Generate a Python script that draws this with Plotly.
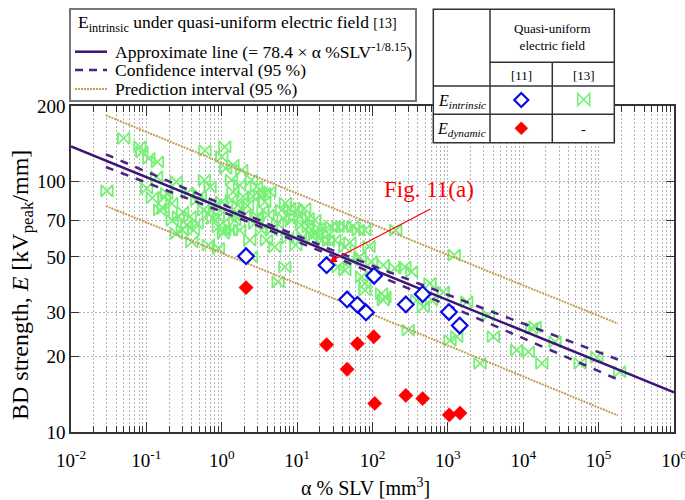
import numpy as np
import plotly.graph_objects as go

# ---------------- data ----------------
# E_intrinsic under quasi-uniform electric field, ref. [13]
ref13_slv = [0.030, 0.050, 0.082, 0.087, 0.108, 0.140, 0.101, 0.137, 0.600, 1.00,
             1.13, 0.589, 0.173, 0.168, 0.217, 0.266, 0.303, 0.379, 0.343, 0.421,
             0.572, 0.665, 0.903, 1.053, 1.00, 0.400, 0.665, 0.903, 0.903, 0.250,
             0.186, 0.466, 0.150, 0.758, 1.096, 1.41, 1.84, 1.345, 1.41, 1.345,
             1.73, 1.92, 1.64, 2.48, 2.89, 3.20, 3.72, 4.34, 3.72, 3.53,
             1.096, 1.345, 1.73, 1.28, 1.49, 2.74, 3.37, 3.92, 5.06, 4.57,
             2.48, 6.21, 8.00, 9.82, 12.6, 6.52, 8.43, 10.9, 14.0, 17.2,
             11.4, 14.0, 19.0, 23.3, 28.6, 35.0, 43.0, 6.87, 5.60, 31.7,
             43.0, 35.0, 43.0, 52.8, 64.6, 68.0, 71.6, 79.3, 97.3, 132,
             139, 79.3, 4.1, 7.5, 9.6, 21.3, 15.7, 2.35, 2.0, 203,
             1216, 139, 198, 269, 330, 146, 79.3, 385, 471, 578,
             869, 609, 1777, 3436, 298, 1066, 1309, 2667, 4009, 8188,
             11690, 12970, 17620, 26420, 56750, 94600, 190000,
             0.22, 0.30, 0.47, 0.52, 0.80, 0.70, 0.35, 1.6, 2.2, 2.6,
             3.0, 5.5, 7.0, 12.0, 18.0, 26.0, 50.0, 55.0, 90.0, 0.12,
             0.25, 14350]
ref13_E = [91.8, 148.6, 137.5, 131.3, 123.6, 119.8, 93.8, 104.4, 132.6, 125.5,
           112.7, 101.3, 86.4, 78.0, 81.7, 72.3, 75.4, 72.3, 67.0, 63.9,
           76.8, 74.5, 65.9, 62.0, 82.9, 57.4, 55.7, 54.0, 72.3, 99.7,
           89.6, 84.2, 77.0, 71.2, 137.5, 116.2, 111.0, 101.3, 90.9, 84.2,
           96.7, 86.9, 80.4, 101.3, 95.2, 88.2, 89.6, 90.9, 82.9, 76.8,
           63.9, 63.9, 63.9, 72.3, 70.1, 68.0, 63.9, 58.3, 54.8, 63.9,
           50.0, 76.8, 78.0, 76.8, 78.0, 71.2, 70.1, 72.3, 71.2, 70.1,
           67.0, 65.9, 64.9, 63.9, 65.9, 65.9, 65.9, 45.6, 39.7, 58.3,
           54.8, 45.6, 44.3, 48.5, 63.9, 50.0, 41.6, 39.2, 47.8, 35.7,
           33.6, 63.9, 73.4, 59.4, 55.7, 58.3, 60.5, 58.3, 73.4, 63.9,
           50.8, 46.3, 45.0, 45.6, 43.6, 34.6, 36.8, 33.6, 31.6, 39.2,
           36.2, 33.6, 33.1, 29.2, 25.5, 23.2, 24.0, 18.8, 24.0, 21.2,
           20.9, 25.9, 18.8, 22.9, 18.8, 19.9, 17.4,
           70.0, 64.0, 68.0, 88.0, 80.0, 95.0, 90.0, 75.0, 80.0, 87.0,
           72.0, 68.0, 82.0, 60.0, 62.0, 58.0, 57.0, 66.0, 55.0, 86.0,
           62.0, 26.3]

# E_intrinsic, ref. [11]
ref11_int_slv = [2.1, 24.6, 105, 46, 63, 82, 277, 463, 1034, 1435]
ref11_int_E = [50.3, 46.3, 42.0, 33.8, 32.2, 30.0, 32.3, 35.5, 30.1, 26.6]

# E_dynamic, ref. [11]
ref11_dyn_slv = [2.1, 24.6, 63, 104, 46, 107, 277, 463, 1044, 1449]
ref11_dyn_E = [37.7, 22.3, 22.5, 24.0, 17.8, 13.0, 14.0, 13.6, 11.7, 11.9]

# approximate line  E = FIT_A * SLV^(-1/FIT_B)
FIT_A = 78.4
FIT_B = 8.15
# regression statistics (log10 space) for the 95 % intervals
T_S = 0.179          # t-value x residual standard deviation
N_FIT = 265
LOGX_MEAN = 1.0
SXX = 396.0
INTERVAL_SLV = (0.029, 1.8e5)

# point marked in Fig. 11(a)
fig11a_slv, fig11a_E = 26.4, 47.6

x_tick_exp = list(range(-2, 7))
y_ticks = [10, 20, 30, 50, 70, 100, 200]

# ---------------- derived curves ----------------
u_full = np.linspace(-2, 6, 200)
E_fit_full = FIT_A * 10 ** (-u_full / FIT_B)

u_int = np.linspace(np.log10(INTERVAL_SLV[0]), np.log10(INTERVAL_SLV[1]), 200)
logE_int = np.log10(FIT_A) - u_int / FIT_B
h_conf = T_S * np.sqrt(1 / N_FIT + (u_int - LOGX_MEAN) ** 2 / SXX)
h_pred = T_S * np.sqrt(1 + 1 / N_FIT + (u_int - LOGX_MEAN) ** 2 / SXX)
x_int = 10 ** u_int

LINE_C = "#3c1478"
CONF_C = "#4a2384"
PRED_C = "#c69c58"
GREEN = "#78f078"
BLUE = "#0a0ae6"
RED = "#ff0000"
SERIF = "Liberation Serif"

fig = go.Figure()

fig.add_trace(go.Scatter(x=ref13_slv, y=ref13_E, mode="markers",
                         marker=dict(symbol="bowtie-open", size=11.5, color=GREEN,
                                     line=dict(width=1.8, color=GREEN)),
                         showlegend=False))

for sign in (1, -1):
    fig.add_trace(go.Scatter(x=x_int, y=10 ** (logE_int + sign * h_pred), mode="lines",
                             line=dict(color=PRED_C, width=2, dash="2px,1px"),
                             showlegend=False))
for sign in (1, -1):
    fig.add_trace(go.Scatter(x=x_int, y=10 ** (logE_int + sign * h_conf), mode="lines",
                             line=dict(color=CONF_C, width=2.5, dash="8px,8px"),
                             showlegend=False))

fig.add_trace(go.Scatter(x=10 ** u_full, y=E_fit_full, mode="lines",
                         line=dict(color=LINE_C, width=2.5), showlegend=False))

fig.add_trace(go.Scatter(x=ref11_int_slv, y=ref11_int_E, mode="markers",
                         marker=dict(symbol="diamond", size=12, color="white",
                                     line=dict(width=2.2, color=BLUE)),
                         showlegend=False))
fig.add_trace(go.Scatter(x=ref11_dyn_slv, y=ref11_dyn_E, mode="markers",
                         marker=dict(symbol="diamond", size=11, color=RED,
                                     line=dict(width=0.5, color=RED)),
                         showlegend=False))

# ---------------- layout helpers (pixel -> paper) ----------------
W, H = 685, 500
ML, MR, MT, MB = 71, 11, 106, 68
PW, PH = W - ML - MR, H - MT - MB


def pxx(x):
    return (x - ML) / PW


def pxy(y):
    return (H - MB - y) / PH


shapes = []
annotations = []

# legend box
shapes.append(dict(type="rect", xref="paper", yref="paper", x0=pxx(70), x1=pxx(416),
                   y0=pxy(101), y1=pxy(9), line=dict(color="#777", width=2),
                   fillcolor="white", layer="above"))
legend_rows = [
    (51.7, dict(color=LINE_C, width=2.5),
     "Approximate line (= 78.4 × α %SLV<sup>-1/8.15</sup>)"),
    (70.0, dict(color=CONF_C, width=2.5, dash="8px,6px"), "Confidence interval (95 %)"),
    (89.0, dict(color=PRED_C, width=2, dash="2px,1px"), "Prediction interval (95 %)"),
]
annotations.append(dict(xref="paper", yref="paper", x=pxx(76), y=pxy(23.5),
                        xanchor="left", yanchor="middle", showarrow=False,
                        text="E<sub>intrinsic</sub> under quasi-uniform electric field "
                             "<span style='font-size:14px'>[13]</span>",
                        font=dict(family=SERIF, size=17.5, color="black")))
for yy, ln, label in legend_rows:
    shapes.append(dict(type="line", xref="paper", yref="paper", x0=pxx(75), x1=pxx(107),
                       y0=pxy(yy), y1=pxy(yy), line=ln, layer="above"))
    annotations.append(dict(xref="paper", yref="paper", x=pxx(113), y=pxy(yy - 0.5),
                            xanchor="left", yanchor="middle", showarrow=False, text=label,
                            font=dict(family=SERIF, size=17.5, color="black")))

# table of symbols
TB = dict(color="#333", width=1.5)
shapes.append(dict(type="rect", xref="paper", yref="paper", x0=pxx(433.3), x1=pxx(614.3),
                   y0=pxy(142.7), y1=pxy(9.3), line=TB, fillcolor="white", layer="above"))
for (x0, y0, x1, y1) in [(490, 9.3, 490, 142.7), (552.3, 62.3, 552.3, 142.7),
                         (490, 62.3, 614.3, 62.3), (433.3, 86, 614.3, 86),
                         (433.3, 114.3, 614.3, 114.3)]:
    shapes.append(dict(type="line", xref="paper", yref="paper", x0=pxx(x0), x1=pxx(x1),
                       y0=pxy(y0), y1=pxy(y1), line=TB, layer="above"))


def cell_marker(cx, cy, path, line, fill):
    shapes.append(dict(type="path", xref="paper", yref="paper", xsizemode="pixel",
                       ysizemode="pixel", xanchor=pxx(cx), yanchor=pxy(cy), path=path,
                       line=line, fillcolor=fill, layer="above"))


cell_marker(521.3, 100, "M-7,0L0,7L7,0L0,-7Z", dict(color=BLUE, width=2.2), "white")
cell_marker(521.3, 128.3, "M-6.5,0L0,6.5L6.5,0L0,-6.5Z", dict(color=RED, width=0.5), RED)
cell_marker(583.7, 99.5, "M6,6L6,-6L-6,6L-6,-6Z", dict(color=GREEN, width=1.6),
            "rgba(0,0,0,0)")

table_text = [
    (552.3, 37, "Quasi-uniform<br>electric field", 13),
    (521.3, 75, "[11]", 13),
    (583.5, 75, "[13]", 13),
    (583.5, 129, "-", 14),
]
for cx, cy, txt, fs in table_text:
    annotations.append(dict(xref="paper", yref="paper", x=pxx(cx), y=pxy(cy),
                            xanchor="center", yanchor="middle", showarrow=False, text=txt,
                            font=dict(family=SERIF, size=fs, color="black")))
for cy, sub in [(101, "intrinsic"), (129, "dynamic")]:
    annotations.append(dict(xref="paper", yref="paper", x=pxx(461.5), y=pxy(cy),
                            xanchor="center", yanchor="middle", showarrow=False,
                            text=f"<i>E<sub>{sub}</sub></i>",
                            font=dict(family=SERIF, size=16, color="black")))

# Fig. 11(a) callout
annotations.append(dict(xref="x", yref="y", x=np.log10(fig11a_slv), y=np.log10(fig11a_E),
                        ax=103, ay=-54, text="", showarrow=True, arrowcolor=RED,
                        arrowwidth=1.2, arrowhead=2, arrowsize=1.3, standoff=0))
annotations.append(dict(xref="paper", yref="paper", x=pxx(429), y=pxy(189),
                        xanchor="center", yanchor="middle", showarrow=False,
                        text="Fig. 11(a)", font=dict(family=SERIF, size=23, color=RED)))

# axis titles
annotations.append(dict(xref="paper", yref="paper", x=pxx(365), y=pxy(487),
                        xanchor="center", yanchor="middle", showarrow=False,
                        text="α % SLV [mm<sup>3</sup>]",
                        font=dict(family=SERIF, size=20, color="black")))
annotations.append(dict(xref="paper", yref="paper", x=pxx(22), y=pxy(285),
                        xanchor="center", yanchor="middle", showarrow=False, textangle=-90,
                        text="BD strength, <i>E</i> [kV<sub>peak</sub>/mm]",
                        font=dict(family=SERIF, size=24, color="black")))

minor_x = [m * 10.0 ** k for k in range(-2, 6) for m in range(2, 10)]
GRID = "#b4b4b4"

fig.update_xaxes(type="log", range=[-2, 6], automargin=False,
                 tickmode="array", tickvals=[10.0 ** k for k in x_tick_exp],
                 ticktext=[f"10<sup>{k}</sup>" for k in x_tick_exp],
                 ticks="inside", ticklen=10, tickwidth=1.2, tickcolor="#333",
                 ticklabeloverflow="allow", ticklabelstandoff=10,
                 showline=True, linecolor="#333", linewidth=1.5, mirror="ticks",
                 showgrid=True, gridcolor=GRID, gridwidth=1, griddash="2px,2px",
                 zeroline=False,
                 minor=dict(tickmode="array", tickvals=minor_x, ticks="inside", ticklen=6,
                            tickwidth=1, tickcolor="#333", showgrid=True, gridcolor=GRID,
                            gridwidth=1, griddash="2px,2px"),
                 tickfont=dict(family=SERIF, size=19, color="black"))
fig.update_yaxes(type="log", range=[1, np.log10(200)], automargin=False,
                 tickmode="array", tickvals=y_ticks, ticktext=[str(v) for v in y_ticks],
                 ticks="inside", ticklen=8, tickwidth=1.2, tickcolor="#333",
                 showline=True, linecolor="#333", linewidth=1.5, mirror="ticks",
                 showgrid=True, gridcolor=GRID, gridwidth=1, griddash="2px,2px",
                 zeroline=False,
                 tickfont=dict(family=SERIF, size=19, color="black"))

fig.update_layout(width=W, height=H, margin=dict(l=ML, r=MR, t=MT, b=MB),
                  paper_bgcolor="white", plot_bgcolor="white",
                  shapes=shapes, annotations=annotations, showlegend=False)

fig.write_html("out.html")
